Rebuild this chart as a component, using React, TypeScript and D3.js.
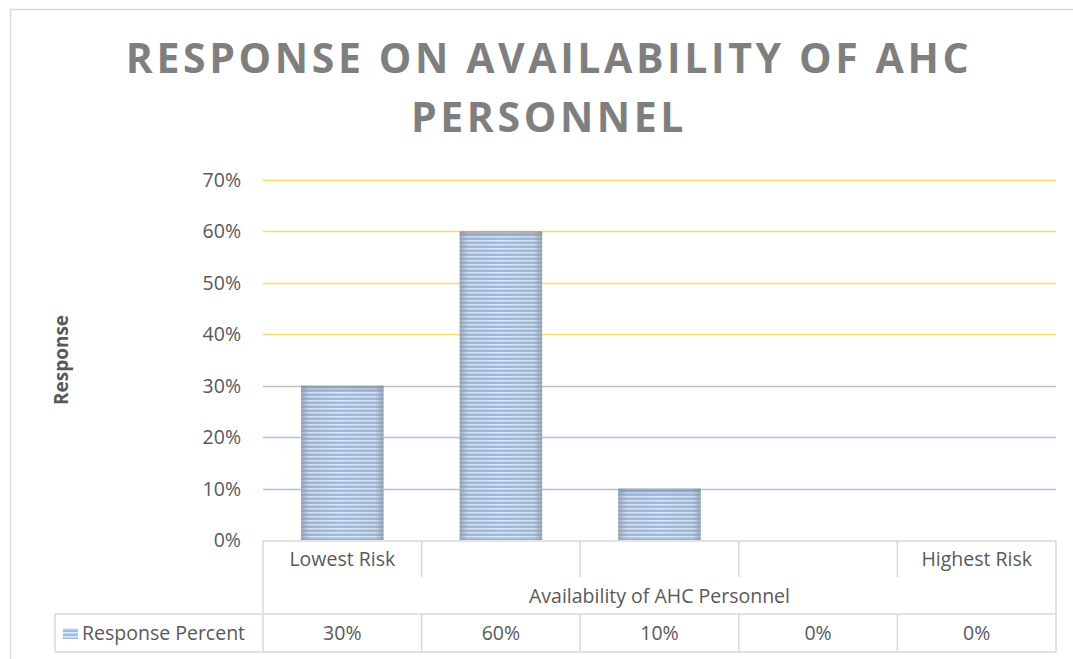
import React from "react";
import * as d3 from "d3";

const categories = ["Lowest Risk", "", "", "", "Highest Risk"];
const values = [0.3, 0.6, 0.1, 0, 0];
const valueLabels = ["30%", "60%", "10%", "0%", "0%"];
const yTicks = [0, 0.1, 0.2, 0.3, 0.4, 0.5, 0.6, 0.7];
const gridColors: Record<string, string> = {
  "0.7": "#FFD966", "0.6": "#FFD966", "0.5": "#FFD966", "0.4": "#FFD966",
  "0.3": "#BFBFBF", "0.2": "#A9C4EB", "0.1": "#A9C4EB",
};
const seriesName = "Response Percent";
const titleLines = ["RESPONSE ON AVAILABILITY OF AHC", "PERSONNEL"];
const xTitle = "Availability of AHC Personnel";
const yTitle = "Response";

const W = 1073, H = 659;
const plotLeft = 263, plotRight = 1056, plotTop = 180, plotBottom = 540;
const font = "'Open Sans', sans-serif";
const textColor = "#595959";
const lineColor = "#D9D9D9";
const fs = 19.5;

export default function App() {
  const x = d3.scaleBand<number>().domain(d3.range(categories.length)).range([plotLeft, plotRight]).paddingInner(0.48).paddingOuter(0.24);
  const band = d3.scaleBand<number>().domain(d3.range(categories.length)).range([plotLeft, plotRight]);
  const y = d3.scaleLinear().domain([0, 0.7]).range([plotBottom, plotTop]);
  const fmt = d3.format(".0%");
  const rowCatTop = 541, rowCatBottom = 577, rowDataTop = 614, rowDataBottom = 652;
  return (
    <svg width={W} height={H} style={{ position: "absolute", left: 0, top: 0 }}>
      <defs>
        <pattern id="stripes" width="4" height="4" patternUnits="userSpaceOnUse">
          <rect width="4" height="4" fill="#9DBBE3" />
          <rect y="0" width="4" height="1.5" fill="#E0E9F6" />
        </pattern>
        <linearGradient id="edge" x1="0" x2="1" y1="0" y2="0">
          <stop offset="0" stopColor="#8A94A2" stopOpacity="0.7" />
          <stop offset="0.1" stopColor="#8A94A2" stopOpacity="0.12" />
          <stop offset="0.5" stopColor="#8A94A2" stopOpacity="0" />
          <stop offset="0.9" stopColor="#8A94A2" stopOpacity="0.12" />
          <stop offset="1" stopColor="#8A94A2" stopOpacity="0.7" />
        </linearGradient>
        <linearGradient id="edgeV" x1="0" x2="0" y1="0" y2="1">
          <stop offset="0" stopColor="#7C8898" stopOpacity="0.6" />
          <stop offset="1" stopColor="#7C8898" stopOpacity="0" />
        </linearGradient>
      </defs>
      <rect x={0} y={0} width={W} height={H} fill="#fff" />
      <rect x={10.5} y={9.5} width={W + 10} height={H + 10} fill="none" stroke={lineColor} strokeWidth={1.5} />
      {titleLines.map((t, i) => (
        <text key={i} x={549} y={73 + i * 59} textAnchor="middle" fontFamily={font} fontWeight={700}
          fontSize={41} fill="#7F7F7F" letterSpacing={3.6}>{t}</text>
      ))}
      {yTicks.filter(t => t > 0).map(t => (
        <line key={t} x1={plotLeft} x2={plotRight} y1={Math.round(y(t)) + 0.5} y2={Math.round(y(t)) + 0.5}
          stroke={gridColors[String(t)]} strokeWidth={1.5} />
      ))}
      {yTicks.map(t => (
        <text key={"l" + t} x={241} y={y(t) + 7} textAnchor="end" fontFamily={font} fontSize={fs} fill={textColor}>{fmt(t)}</text>
      ))}
      <text transform={`translate(68,360) rotate(-90)`} textAnchor="middle" fontFamily={font} fontWeight={700} fontSize={19} fill={textColor}>{yTitle}</text>
      {values.map((v, i) => v > 0 && (
        <g key={i}>
          <rect x={x(i)} y={y(v)} width={x.bandwidth()} height={y(0) - y(v)} fill="url(#stripes)" />
          <rect x={x(i)} y={y(v)} width={x.bandwidth()} height={y(0) - y(v)} fill="url(#edge)" />
          <rect x={x(i)} y={y(v)} width={x.bandwidth()} height={Math.min(6, y(0) - y(v))} fill="url(#edgeV)" />
        </g>
      ))}
      <g stroke={lineColor} strokeWidth={1.5} fill="none">
        <line x1={plotLeft} x2={plotRight} y1={rowCatTop} y2={rowCatTop} />
        {d3.range(categories.length + 1).map(i => {
          const xx = i < categories.length ? band(i)! : plotRight;
          return <line key={i} x1={xx} x2={xx} y1={rowCatTop} y2={i === 0 || i === categories.length ? rowDataBottom : rowCatBottom} />;
        })}
        {d3.range(1, categories.length).map(i => (
          <line key={"d" + i} x1={band(i)!} x2={band(i)!} y1={rowDataTop} y2={rowDataBottom} />
        ))}
        <line x1={55} x2={plotRight} y1={rowDataTop} y2={rowDataTop} />
        <line x1={55} x2={plotRight} y1={rowDataBottom} y2={rowDataBottom} />
        <line x1={55} x2={55} y1={rowDataTop} y2={rowDataBottom} />
      </g>
      {categories.map((c, i) => (
        <text key={"c" + i} x={band(i)! + band.bandwidth() / 2} y={566} textAnchor="middle" fontFamily={font} fontSize={fs} fill={textColor}>{c}</text>
      ))}
      <text x={(plotLeft + plotRight) / 2} y={603} textAnchor="middle" fontFamily={font} fontSize={fs} fill={textColor}>{xTitle}</text>
      {valueLabels.map((v, i) => (
        <text key={"v" + i} x={band(i)! + band.bandwidth() / 2} y={640} textAnchor="middle" fontFamily={font} fontSize={fs} fill={textColor}>{v}</text>
      ))}
      <rect x={63} y={628} width={15} height={11} fill="url(#stripes)" />
      <text x={82} y={640} fontFamily={font} fontSize={fs} fill={textColor}>{seriesName}</text>
    </svg>
  );
}
